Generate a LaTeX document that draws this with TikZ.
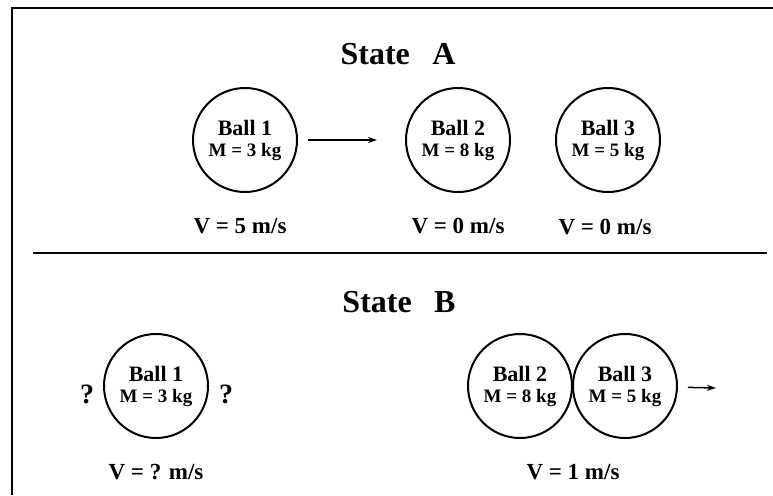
\documentclass[tikz,border=0pt]{standalone}
\usepackage{fontspec}
\setmainfont{Liberation Serif}
\usetikzlibrary{arrows.meta}
\newcommand{\massa}[1]{{\fontsize{19}{18}\selectfont #1}}
\begin{document}
\begin{tikzpicture}[>={Stealth[length=9pt, width=6pt]}, x=10pt, y=-10pt,
    bola/.style={draw, circle, line width=2pt, minimum size=104pt, inner sep=0pt,
                 align=center, font=\fontsize{22}{18}\selectfont\bfseries},
    judul/.style={anchor=base, font=\fontsize{32}{32}\selectfont\bfseries},
    kecepatan/.style={anchor=base, font=\fontsize{23}{23}\selectfont\bfseries},
    tanya/.style={anchor=base, font=\fontsize{28}{28}\selectfont\bfseries},
    panah/.style={->, line width=1.5pt}]

    \useasboundingbox (0,0) rectangle (77.3,49.5);

    % Bingkai dan garis pemisah
    \draw[line width=2.4pt] (77.3,0.8) -- (1.2,0.8) -- (1.2,49.5);
    \draw[line width=1.8pt] (3.3,25.3) -- (76.7,25.3);

    % Keadaan A: bola 1 bergerak, bola 2 dan 3 diam
    \node[judul] (judulA) at (39.8,6.4) {State\hspace{0.7em}A};
    \node[bola] (a1) at (24.5,14.0) {Ball 1\\[3pt]\massa{M = 3 kg}};
    \node[bola] (a2) at (45.8,14.0) {Ball 2\\[3pt]\massa{M = 8 kg}};
    \node[bola] (a3) at (60.8,14.0) {Ball 3\\[3pt]\massa{M = 5 kg}};
    \draw[panah, shorten <=10pt, shorten >=28pt] (a1) -- (a2);

    \node[kecepatan] (va1) at (24.0,23.3) {V = 5 m/s};
    \node[kecepatan] (va2) at (45.8,23.3) {V = 0 m/s};
    \node[kecepatan] (va3) at (60.5,23.4) {V = 0 m/s};

    % Keadaan B: bola 2 dan 3 bergerak bersama
    \node[judul] (judulB) at (39.9,31.2) {State\hspace{0.7em}B};
    \node[bola] (b1) at (15.6,38.6) {Ball 1\\[3pt]\massa{M = 3 kg}};
    \node[bola] (b2) at (52.0,38.6) {Ball 2\\[3pt]\massa{M = 8 kg}};
    \node[bola] (b3) at (62.5,38.6) {Ball 3\\[3pt]\massa{M = 5 kg}};
    \node[tanya] (kiri) at (8.7,40.3) {?};
    \node[tanya] (kanan) at (22.6,40.3) {?};
    \coordinate (arahB) at (71.6,38.8);
    \draw[panah, shorten <=10pt] (b3) -- (arahB);

    \node[kecepatan] (vb1) at (15.6,47.9) {V = ? m/s};
    \node[kecepatan] (vb2) at (57.3,47.9) {V = 1 m/s};

\end{tikzpicture}
\end{document}
